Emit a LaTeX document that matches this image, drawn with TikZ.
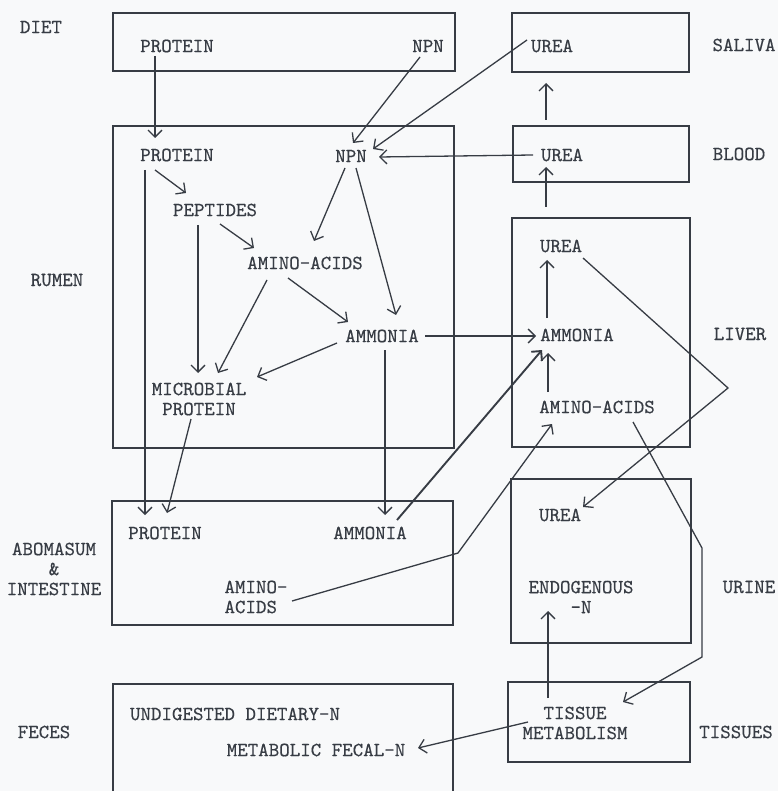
\documentclass[tikz,border=0pt]{standalone}
\usepackage{fontspec}
\newfontfamily\schreibmaschine[FakeBold=0.4]{lmmono10-regular.otf}
\usetikzlibrary{arrows.meta,calc}
\definecolor{tinte}{RGB}{55,60,68}
\definecolor{papier}{RGB}{248,249,250}

\begin{document}
\begin{tikzpicture}[x=1pt, y=-1pt,
    txt/.style={font=\schreibmaschine\fontsize{20}{20}\selectfont, text=tinte, inner sep=0pt, align=center},
    kasten/.style={draw=tinte, line width=1.5pt},
    pfeil/.style={draw=tinte, line width=1.3pt, -{Straight Barb[length=7pt, width=14pt]}}]

    % Hintergrund und Rahmen (Pixelmass 778 x 791)
    \fill[papier] (0,0) rectangle (778,791);
    \useasboundingbox (0,0) rectangle (778,791);

    % ==========================================
    % KAESTEN
    % ==========================================
    \draw[kasten] (113,13) rectangle (455,71);    % Futter
    \draw[kasten] (512,13) rectangle (689,72);    % Speichel
    \draw[kasten] (113,126) rectangle (454,448);  % Pansen
    \draw[kasten] (513,126) rectangle (689,182);  % Blut
    \draw[kasten] (512,218) rectangle (690,447);  % Leber
    \draw[kasten] (112,501) rectangle (453,625);  % Labmagen & Darm
    \draw[kasten] (511,479) rectangle (691,643);  % Harn
    \draw[kasten] (113,791) |- (453,684) -- (453,791); % Kot (unten offen)
    \draw[kasten] (508,682) rectangle (690,762);  % Gewebe

    % ==========================================
    % BESCHRIFTUNG AUSSEN
    % ==========================================
    \node[txt] (diet)    at (41,27)  {DIET};
    \node[txt] (saliva)  at (744,45) {SALIVA};
    \node[txt] (blood)   at (739,154) {BLOOD};
    \node[txt] (rumen)   at (57,280) {RUMEN};
    \node[txt] (liver)   at (740,334) {LIVER};
    \node[txt] (abom)    at (54,569) {ABOMASUM\\\&\\INTESTINE};
    \node[txt] (urine)   at (749,587) {URINE};
    \node[txt] (feces)   at (44,732) {FECES};
    \node[txt] (tissues) at (736,732) {TISSUES};

    % ==========================================
    % INHALT DER KAESTEN
    % ==========================================
    % Futter und Speichel
    \node[txt] (dprot) at (177,46) {PROTEIN};
    \node[txt] (dnpn)  at (428,46) {NPN};
    \node[txt] (surea) at (552,46) {UREA};
    % Pansen
    \node[txt] (rprot) at (177,155) {PROTEIN};
    \node[txt] (rnpn)  at (351,156) {NPN};
    \node[txt] (pept)  at (215,210) {PEPTIDES};
    \node[txt] (raa)   at (305,263) {AMINO-ACIDS};
    \node[txt] (ramm)  at (382,336) {AMMONIA};
    \node[txt] (mprot) at (199,399) {MICROBIAL\\PROTEIN};
    % Blut und Leber
    \node[txt] (burea) at (562,155) {UREA};
    \node[txt] (lurea) at (561,246) {UREA};
    \node[txt] (lamm)  at (577,335) {AMMONIA};
    \node[txt] (laa)   at (597,407) {AMINO-ACIDS};
    % Labmagen & Darm
    \node[txt] (aprot) at (165,533) {PROTEIN};
    \node[txt] (aamm)  at (370,533) {AMMONIA};
    \node[txt, align=left] (aaa) at (256,597) {AMINO-\\ACIDS};
    % Harn
    \node[txt] (uurea) at (560,515) {UREA};
    \node[txt] (endo)  at (581,597) {ENDOGENOUS\\-N};
    % Kot und Gewebe
    \node[txt] (undig)  at (235,714) {UNDIGESTED DIETARY-N};
    \node[txt] (mfec)   at (316,750) {METABOLIC FECAL-N};
    \node[txt] (tissue) at (575,723) {TISSUE\\METABOLISM};

    % Knickpunkte der langen Pfeile
    \coordinate (knickaa)   at (458,553);
    \coordinate (knickurea) at (728,388);
    \coordinate (knickt1)   at (702,548);
    \coordinate (knickt2)   at (702,657);

    % ==========================================
    % PFEILE
    % ==========================================
    % Futter -> Pansen, Speichel/Blut -> NPN
    \draw[pfeil] ($(dprot)+(-22,10)$) -- ($(rprot)+(-22,-17)$);
    \draw[pfeil] ($(dnpn)+(-8,11)$) -- ($(rnpn)+(2,-13)$);
    \draw[pfeil] ($(surea)+(-25,-6)$) -- ($(rnpn)+(22,-7)$);
    \draw[pfeil] ($(burea)+(-29,0)$) -- ($(rnpn)+(28,1)$);
    \draw[pfeil] ($(burea)+(-16,-35)$) -- ($(surea)+(-6,37)$);
    \draw[pfeil] ($(lurea)+(-15,-39)$) -- ($(burea)+(-16,12)$);

    % Umsetzungen im Pansen
    \draw[pfeil] ($(rprot)+(-32,15)$) -- ($(aprot)+(-20,-18)$);
    \draw[pfeil] ($(rprot)+(-22,15)$) -- ($(pept)+(-29,-17)$);
    \draw[pfeil] ($(pept)+(5,14)$) -- ($(raa)+(-51,-15)$);
    \draw[pfeil] ($(pept)+(-17,15)$) -- ($(mprot)+(-1,-26)$);
    \draw[pfeil] ($(rnpn)+(-6,12)$) -- ($(raa)+(9,-22)$);
    \draw[pfeil] ($(rnpn)+(5,12)$) -- ($(ramm)+(14,-21)$);
    \draw[pfeil] ($(raa)+(-17,15)$) -- ($(ramm)+(-34,-14)$);
    \draw[pfeil] ($(raa)+(-38,17)$) -- ($(mprot)+(19,-26)$);
    \draw[pfeil] ($(ramm)+(-45,7)$) -- ($(mprot)+(58,-22)$);
    \draw[pfeil] ($(ramm)+(43,0)$) -- ($(lamm)+(-41,1)$);
    \draw[pfeil] ($(ramm)+(3,14)$) -- ($(aamm)+(15,-18)$);
    \draw[pfeil] ($(mprot)+(-8,20)$) -- ($(aprot)+(2,-20)$);

    % Labmagen & Darm -> Leber
    \draw[pfeil, line width=1.9pt] ($(aamm)+(27,-13)$) -- ($(lamm)+(-35,15)$);
    \draw[pfeil] ($(aaa)+(36,4)$) -- (knickaa) -- ($(laa)+(-45,17)$);

    % Leber
    \draw[pfeil] ($(laa)+(-49,-15)$) -- ($(lamm)+(-29,18)$);
    \draw[pfeil] ($(lamm)+(-30,-17)$) -- ($(lurea)+(-14,14)$);
    \draw[pfeil] ($(lurea)+(22,12)$) -- (knickurea) -- ($(uurea)+(23,-8)$);
    \draw[pfeil] ($(laa)+(36,15)$) -- (knickt1) -- (knickt2) -- ($(tissue)+(48,-21)$);

    % Gewebe -> Harn und Kot
    \draw[pfeil] ($(tissue)+(-27,-25)$) -- ($(endo)+(-33,14)$);
    \draw[pfeil] ($(tissue)+(-47,-1)$) -- ($(mfec)+(102,-2)$);

\end{tikzpicture}
\end{document}
